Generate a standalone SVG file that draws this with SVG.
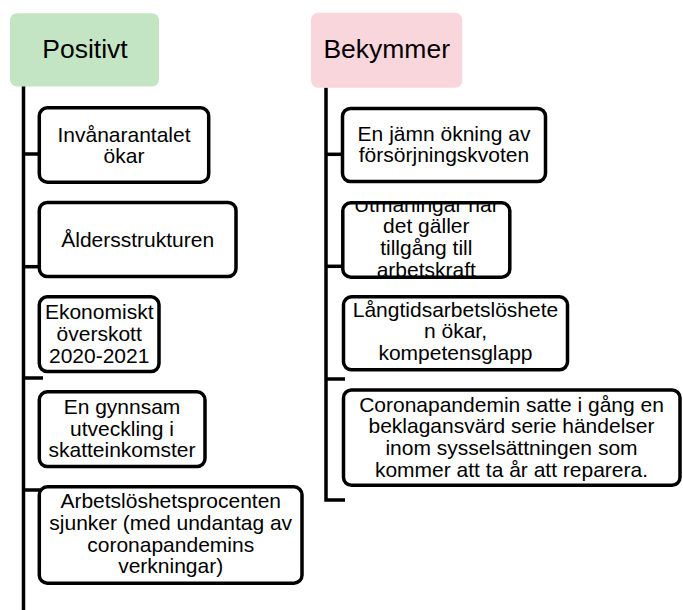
<svg xmlns="http://www.w3.org/2000/svg" width="683" height="610" viewBox="0 0 683 610">
<style>
  .hdr { font-family: "Liberation Sans", Arial, sans-serif; font-size: 26.5px; fill: #000; text-anchor: middle; }
  .txt { font-family: "Liberation Sans", Arial, sans-serif; font-size: 21px; fill: #000; text-anchor: middle; }
  .box { fill: #fff; stroke: #000; stroke-width: 3.5; }
  .conn { fill: none; stroke: #000; stroke-width: 3.5; stroke-linecap: butt; stroke-linejoin: miter; }
</style>
<defs>
  <clipPath id="clipR2"><rect x="343" y="203.5" width="167" height="72.5"/></clipPath>
</defs>
<rect width="683" height="610" fill="#fff"/>

<g id="connectors">
  <line class="conn" x1="23.5" y1="86" x2="23.5" y2="610"/>
  <line class="conn" x1="23.5" y1="154" x2="39" y2="154"/>
  <line class="conn" x1="23.5" y1="266.7" x2="39" y2="266.7"/>
  <line class="conn" x1="23.5" y1="378" x2="43" y2="378"/>
  <line class="conn" x1="23.5" y1="490" x2="40" y2="490"/>
  <polyline class="conn" points="326,87.5 326,500 345,500"/>
  <line class="conn" x1="326" y1="154.3" x2="342.5" y2="154.3"/>
  <line class="conn" x1="326" y1="266.3" x2="343" y2="266.3"/>
  <line class="conn" x1="326" y1="379" x2="345" y2="379"/>
</g>

<g id="positivt">
  <rect x="10" y="13.3" width="149" height="73.3" rx="7" fill="#c4e5c4"/>
  <text class="hdr" x="85" y="58.3">Positivt</text>
</g>

<g id="bekymmer">
  <rect x="311" y="12.7" width="151.3" height="75" rx="7" fill="#f9d6dc"/>
  <text class="hdr" x="386.7" y="58.3">Bekymmer</text>
</g>

<g id="p1">
  <rect class="box" x="39.3" y="107.8" width="169.4" height="74.4" rx="8"/>
  <text class="txt" x="124" y="141.7">Invånarantalet</text>
  <text class="txt" x="124" y="163.3">ökar</text>
</g>

<g id="p2">
  <rect class="box" x="39.3" y="202.5" width="196.7" height="74" rx="8"/>
  <text class="txt" x="137.7" y="246.7">Åldersstrukturen</text>
</g>

<g id="p3">
  <rect class="box" x="39.3" y="296.8" width="119.7" height="74.7" rx="8"/>
  <text class="txt" x="99.2" y="319.3">Ekonomiskt</text>
  <text class="txt" x="99.2" y="341">överskott</text>
  <text class="txt" x="99.2" y="362.7">2020-2021</text>
</g>

<g id="p4">
  <rect class="box" x="39.3" y="391.8" width="165.7" height="74.7" rx="8"/>
  <text class="txt" x="122" y="414">En gynnsam</text>
  <text class="txt" x="122" y="435.7">utveckling i</text>
  <text class="txt" x="122" y="457.3">skatteinkomster</text>
</g>

<g id="p5">
  <rect class="box" x="39.3" y="486.8" width="262.7" height="96.4" rx="8"/>
  <text class="txt" x="170.7" y="508.3">Arbetslöshetsprocenten</text>
  <text class="txt" x="170.7" y="530">sjunker (med undantag av</text>
  <text class="txt" x="170.7" y="551.7">coronapandemins</text>
  <text class="txt" x="170.7" y="573.3">verkningar)</text>
</g>

<g id="b1">
  <rect class="box" x="342.5" y="108.5" width="203" height="73" rx="8"/>
  <text class="txt" x="444" y="140.5">En jämn ökning av</text>
  <text class="txt" x="444" y="162.2">försörjningskvoten</text>
</g>

<g id="b2">
  <rect class="box" x="342.8" y="202.8" width="167" height="74.4" rx="8"/>
  <g clip-path="url(#clipR2)">
    <text class="txt" x="426.3" y="211.7">Utmaningar när</text>
    <text class="txt" x="426.3" y="233.3">det gäller</text>
    <text class="txt" x="426.3" y="255">tillgång till</text>
    <text class="txt" x="426.3" y="276.7">arbetskraft</text>
  </g>
</g>

<g id="b3">
  <rect class="box" x="343.5" y="296.8" width="224" height="73" rx="8"/>
  <text class="txt" x="455.5" y="316.7">Långtidsarbetslöshete</text>
  <text class="txt" x="455.5" y="338.3">n ökar,</text>
  <text class="txt" x="455.5" y="360">kompetensglapp</text>
</g>

<g id="b4">
  <rect class="box" x="343.5" y="390" width="336.5" height="95.3" rx="8"/>
  <text class="txt" x="511.5" y="411.7">Coronapandemin satte i gång en</text>
  <text class="txt" x="511.5" y="433.3">beklagansvärd serie händelser</text>
  <text class="txt" x="511.5" y="455">inom sysselsättningen som</text>
  <text class="txt" x="511.5" y="476.7">kommer att ta år att reparera.</text>
</g>
</svg>
